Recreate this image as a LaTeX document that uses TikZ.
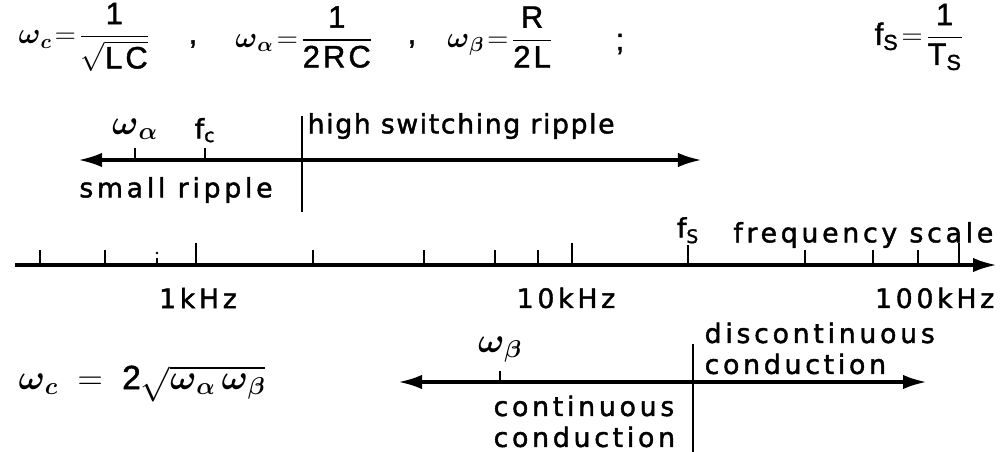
\documentclass[tikz,border=0pt]{standalone}
\usepackage{amsmath}
\usepackage{fontspec}
\setmainfont{Liberation Sans}
\newfontfamily\letfont[LetterSpace=14,FakeBold=1.6]{DejaVu Sans}
\newfontfamily\letfontn[LetterSpace=6,FakeBold=1.6]{DejaVu Sans}
\newfontfamily\eqfont[LetterSpace=10,FakeBold=1.4]{Liberation Sans}
\newcommand{\eqt}[1]{\text{\eqfont #1}}
\newcommand{\bw}{\boldsymbol{\omega}}
\usetikzlibrary{positioning,arrows.meta}

\begin{document}
\begin{tikzpicture}[
  x=0.025cm, y=-0.025cm,
  node distance=1mm and 4mm,
  lbl/.style={font=\letfont\fontsize{19}{22}\selectfont, inner sep=1pt, align=left},
  eq/.style={font=\fontsize{22}{26}\selectfont, inner sep=0pt},
  sym/.style={font=\fontsize{24}{26}\selectfont, inner sep=0pt},
  arr/.style={-{Latex[length=6mm,width=3.6mm]}, line width=2.6pt},
  dblarr/.style={{Latex[length=6mm,width=3.6mm]}-{Latex[length=6mm,width=3.6mm]}, line width=2.6pt},
  tickln/.style={line width=1.8pt},
  divider/.style={line width=2pt}
]
\useasboundingbox (0,0) rectangle (1002,452);

% definitions along the top
\node[eq] (wcdef) at (84,37) {$\bw_{\boldsymbol{c}}\!=\!\dfrac{\eqt{1}}{\sqrt{\eqt{LC}}}$};
\node[eq] (c1) at (193,44) {\eqfont ,};
\node[eq] (wadef) at (304,37) {$\bw_{\boldsymbol{\alpha}}\!=\!\dfrac{\eqt{1}}{\eqt{2RC}}$};
\node[eq] (c2) at (412,44) {\eqfont ,};
\node[eq] (wbdef) at (500,37) {$\bw_{\boldsymbol{\beta}}\!=\!\dfrac{\eqt{R}}{\eqt{2L}}$};
\node[eq] (semi) at (620,44) {\eqfont ;};
\node[eq] (fsdef) at (919,37) {$\eqt{f}_{\eqt{S}}\!=\!\dfrac{\eqt{1}}{\eqt{T}_{\eqt{S}}}$};

% ripple axis
\coordinate (ripL) at (78,160);
\coordinate (ripR) at (702,160);
\draw[dblarr] (ripL) -- (ripR);
\coordinate (rdivT) at (302,116);
\coordinate (rdivB) at (302,212);
\draw[divider] (rdivT) -- (rdivB);
\coordinate (ta) at (135,160);
\coordinate (tc) at (205,160);
\draw[tickln] (ta) -- ++(0,-12) coordinate (taT);
\draw[tickln] (tc) -- ++(0,-12) coordinate (tcT);
\node[sym, above=2mm of taT] (wal) {$\bw_{\boldsymbol{\alpha}}$};
\node[lbl, above=1mm of tcT] (fcl) {f$_{\text{c}}$};
\node[lbl, font=\letfontn\fontsize{19}{22}\selectfont, anchor=west] (hsr) at (306,126) {high switching ripple};
\node[lbl] (smr) at (176,190) {small ripple};

% frequency scale
\coordinate (fsL) at (15,265);
\coordinate (fsR) at (997,265);
\draw[arr] (fsL) -- (fsR);
\foreach \x in {40,105,313,424,495,538,805,873,918}
  \draw[tickln] (\x,265) -- (\x,250);
\foreach \x in {196,572,959}
  \draw[tickln] (\x,265) -- (\x,243);
\draw[tickln] (157,265) -- (157,258);
\fill (157,253) circle (1.3);
\coordinate (tfs) at (688,265);
\draw[tickln] (tfs) -- ++(0,-20) coordinate (tfsT);
\node[lbl, above=0mm of tfsT] (fsl) {f$_{\text{S}}$};
\node[lbl, anchor=east] (fscale) at (995,235) {frequency scale};
\node[lbl] (k1) at (198,298) {1kHz};
\node[lbl] (k10) at (566,298) {10kHz};
\node[lbl, anchor=east] (k100) at (996,298) {100kHz};

% conduction axis
\coordinate (conL) at (398,382);
\coordinate (conR) at (927,382);
\draw[dblarr] (conL) -- (conR);
\coordinate (cdivT) at (693,344);
\coordinate (cdivB) at (693,452);
\draw[divider] (cdivT) -- (cdivB);
\coordinate (tb) at (500,382);
\draw[tickln] (tb) -- ++(0,-11) coordinate (tbT);
\node[sym, above=2mm of tbT] (wbl) {$\bw_{\boldsymbol{\beta}}$};
\node[lbl, anchor=north west] (disc) at (703,321) {discontinuous\\conduction};
\node[lbl, anchor=north west] (cont) at (492,394) {continuous\\conduction};

\node[sym] (wcrel) at (142,384) {$\bw_{\boldsymbol{c}}\;=\;\eqt{2}\sqrt{\bw_{\boldsymbol{\alpha}}\,\bw_{\boldsymbol{\beta}}}$};
\end{tikzpicture}
\end{document}
